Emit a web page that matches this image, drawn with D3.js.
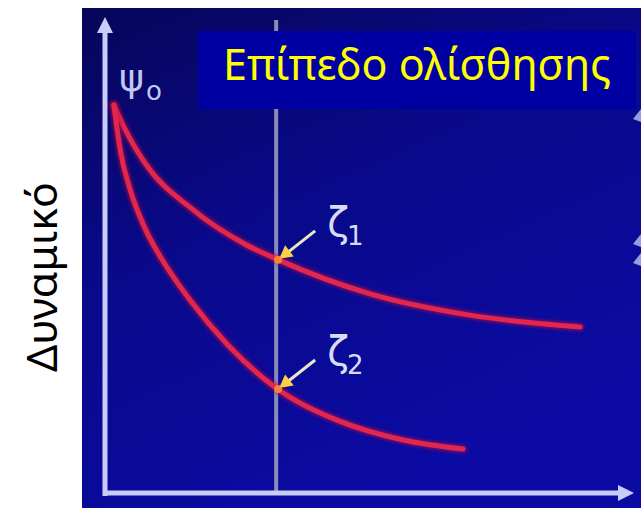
<!DOCTYPE html>
<html><head><meta charset="utf-8">
<script src="https://cdn.jsdelivr.net/npm/d3@7"></script>
<style>html,body{margin:0;padding:0;background:#fff;}svg{display:block;}</style>
</head><body>
<script>
// Data (abstract units: distance 0..100, potential 0..100)
const upperX = [1.7, 4.0, 7.6, 17.1, 26.7, 32.6, 50.5, 69.5, 90.5];
const upperY = [82.0, 76.5, 69.8, 59.6, 52.6, 49.5, 42.1, 37.6, 35.1];
const lowerX = [1.7, 2.9, 4.8, 7.6, 10.9, 16.2, 23.4, 32.6, 44.2, 56.8, 68.2];
const lowerY = [82.0, 72.5, 64.1, 56.0, 49.3, 40.8, 31.3, 22.2, 15.4, 11.2, 9.3];
const slipPlaneX = 32.6;
const zetaValues = [49.5, 22.2];
const zetaLabels = ["1", "2"];
const titleText = "Επίπεδο ολίσθησης";
const yAxisTitle = "Δυναμικό";
const psiLabel = "ψ";

const W = 641, H = 512;
const svg = d3.select("body").append("svg").attr("width", W).attr("height", H);
const defs = svg.append("defs");

const bg = defs.append("linearGradient").attr("id","bg").attr("x1","0").attr("y1","0").attr("x2","0.5").attr("y2","1");
bg.append("stop").attr("offset","0").attr("stop-color","#06065a");
bg.append("stop").attr("offset","0.45").attr("stop-color","#09098a");
bg.append("stop").attr("offset","1").attr("stop-color","#0b0ba4");

const glow = defs.append("filter").attr("id","glow").attr("x","-20%").attr("y","-20%").attr("width","140%").attr("height","140%");
glow.append("feGaussianBlur").attr("stdDeviation","1.6");
const soft = defs.append("filter").attr("id","soft").attr("x","-50%").attr("y","-50%").attr("width","200%").attr("height","200%");
soft.append("feGaussianBlur").attr("stdDeviation","0.7");

// panel
svg.append("rect").attr("x",82).attr("y",8).attr("width",W-82).attr("height",500).attr("fill","url(#bg)");

const x = d3.scaleLinear().domain([0,100]).range([105,630]);
const y = d3.scaleLinear().domain([0,100]).range([493,20]);

// vertical slip plane line
svg.append("line").attr("x1",x(slipPlaneX)).attr("x2",x(slipPlaneX)).attr("y1",y(100)).attr("y2",y(0))
  .attr("stroke","#8a8cb8").attr("stroke-width",4);

// curves
const line = d3.line().x(d=>x(d[0])).y(d=>y(d[1])).curve(d3.curveMonotoneX);
[[upperX,upperY],[lowerX,lowerY]].forEach(([xs,ys])=>{
  const pts = xs.map((v,i)=>[v,ys[i]]);
  svg.append("path").attr("d",line(pts)).attr("fill","none").attr("stroke","#b80c3c").attr("stroke-width",9)
    .attr("stroke-linecap","round").attr("opacity",0.5).attr("filter","url(#glow)");
  svg.append("path").attr("d",line(pts)).attr("fill","none").attr("stroke","#e2264e").attr("stroke-width",5)
    .attr("stroke-linecap","round").attr("filter","url(#soft)");
});

// axes
const axisColor = "#c8cdf8";
svg.append("line").attr("x1",x(0)).attr("x2",x(0)).attr("y1",y(0)+3).attr("y2",y(100)+8)
  .attr("stroke",axisColor).attr("stroke-width",5);
svg.append("line").attr("x1",x(0)-2).attr("x2",x(100)-8).attr("y1",y(0)).attr("y2",y(0))
  .attr("stroke",axisColor).attr("stroke-width",5);
svg.append("path").attr("d",`M${x(0)},${y(100)-3} L${x(0)-8},${y(100)+13} L${x(0)+8},${y(100)+13} Z`).attr("fill",axisColor);
svg.append("path").attr("d",`M${x(100)+4},${y(0)} L${x(100)-12},${y(0)-8} L${x(100)-12},${y(0)+8} Z`).attr("fill",axisColor);

// right edge marks (cropped arrowheads)
[118,243,262].forEach(yy=>{
  svg.append("path").attr("d",`M${W},${yy-9} L${W-8},${yy+1} L${W},${yy+4} Z`)
    .attr("fill","#c8cdf8").attr("opacity",0.75).attr("filter","url(#soft)");
});

// psi label
const psi = svg.append("text").attr("x",119).attr("y",91).attr("fill","#c4c8f0")
  .attr("font-family","DejaVu Sans, sans-serif").attr("font-size",38);
psi.append("tspan").text(psiLabel);
psi.append("tspan").attr("font-size",26).attr("dx",2).attr("dy",9).text("o");

// arrows + zeta labels
zetaValues.forEach((zv,i)=>{
  const px = x(slipPlaneX)+3, py = y(zv);
  const sx = px+36, sy = py-28;
  svg.append("line").attr("x1",sx).attr("y1",sy).attr("x2",px+8).attr("y2",py-6)
    .attr("stroke","#e8e8c0").attr("stroke-width",3);
  const ang = Math.atan2(py-sy, px-sx);
  const hl = 13, hw = 7;
  const bx = px - hl*Math.cos(ang), by = py - hl*Math.sin(ang);
  const nx = -Math.sin(ang)*hw, ny = Math.cos(ang)*hw;
  svg.append("path").attr("d",`M${px},${py} L${bx+nx},${by+ny} L${bx-nx},${by-ny} Z`).attr("fill","#ffd040");
  svg.append("circle").attr("cx",px-1).attr("cy",py+1).attr("r",4).attr("fill","#ff9a30").attr("opacity",0.8);
  const t = svg.append("text").attr("x",px+48).attr("y",py-23).attr("fill","#d8dcf4")
    .attr("font-family","DejaVu Sans, sans-serif").attr("font-size",40);
  t.append("tspan").text("ζ");
  t.append("tspan").attr("font-size",26).attr("dx",-2).attr("dy",9).text(zetaLabels[i]);
});

// title box
svg.append("rect").attr("x",198).attr("y",31).attr("width",438).attr("height",78).attr("fill","#0000a2");
const tt = svg.append("text").attr("x",417).attr("y",80).attr("text-anchor","middle").attr("fill","#ffff00")
  .attr("font-family","'Noto Sans', 'Open Sans', sans-serif").attr("font-size",44).text(titleText);
const tw = tt.node().getComputedTextLength();
tt.attr("font-size", 44*388/tw);

// y axis title
const yt = svg.append("text").attr("transform","translate(57,277) rotate(-90)").attr("text-anchor","middle")
  .attr("fill","#000").attr("font-family","'Noto Sans', 'Open Sans', sans-serif").attr("font-size",38).text(yAxisTitle);
const yw = yt.node().getComputedTextLength();
yt.attr("font-size", 38*190/yw);
</script>
</body></html>
